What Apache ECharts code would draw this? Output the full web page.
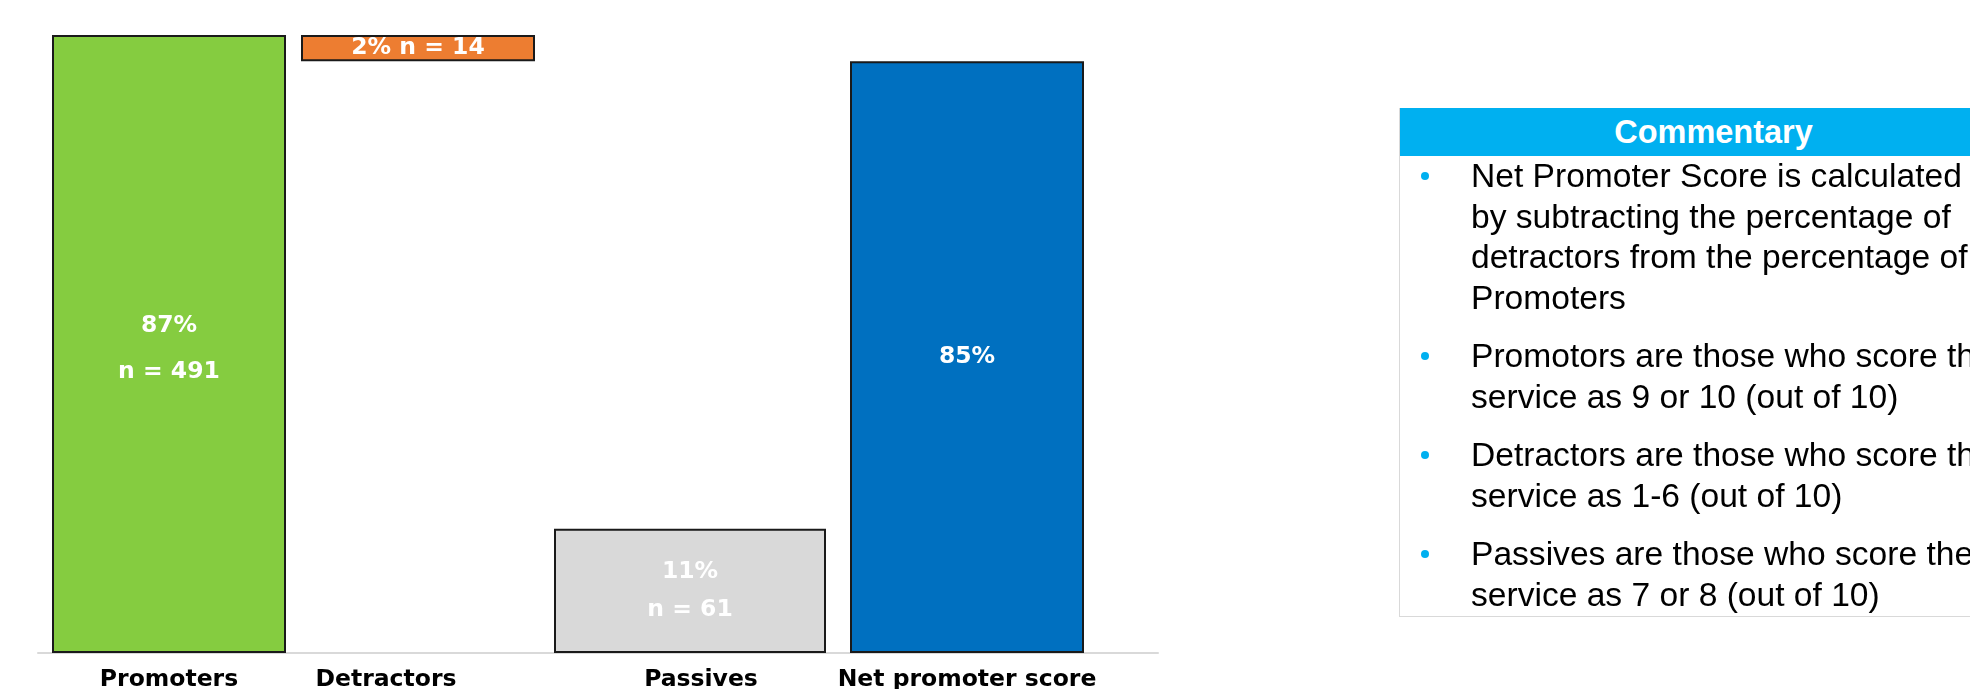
<!DOCTYPE html>
<html>
<head>
<meta charset="utf-8">
<script src="https://cdn.jsdelivr.net/npm/echarts@6/dist/echarts.min.js"></script>
<style>
  html, body { margin: 0; padding: 0; background: #fff; }
  body { width: 1970px; height: 689px; overflow: hidden; position: relative; }
  #chart { position: absolute; left: 0; top: 0; width: 1970px; height: 689px; }
  #commentary {
    position: absolute; left: 1399px; top: 108px; width: 627px; height: 508px;
    border-left: 1px solid #d9d9d9; border-bottom: 1px solid #d9d9d9;
    font-family: "Liberation Sans", Arial, sans-serif; color: #000;
  }
  #commentary .head {
    height: 48px; line-height: 48px; background: #00b0f0; color: #fff;
    font-weight: bold; font-size: 32.5px; text-align: center;
  }
  #commentary .para {
    position: relative; padding-left: 71px; font-size: 33.6px; line-height: 40.5px;
    white-space: nowrap; margin-top: 18px;
  }
  #commentary .para.first { margin-top: 0; }
  #commentary .para .dot {
    position: absolute; left: 21px; top: 16px; width: 8px; height: 8px;
    border-radius: 50%; background: #00b0f0;
  }
</style>
</head>
<body>
<div id="chart"></div>
<div id="commentary"></div>
<script>
// categories along the axis
var categories = ['Promoters', 'Detractors', 'Passives', 'Net promoter score'];
// shares and respondent counts as printed on the bars
var shares = [87, 2, 11, 85];
var counts = [491, 14, 61, null];
// bar heights as drawn in the original (the slide is not to scale)
var drawnHeights = [87, 3.7, 17.5, 83.3];

var barColors = ['#85cc40', '#ed7d31', '#d9d9d9', '#0070c0'];

var commentaryTitle = 'Commentary';
var commentaryLines = [
    ['Net Promoter Score is calculated', 'by subtracting the percentage of', 'detractors from the percentage of', 'Promoters'],
    ['Promotors are those who score the', 'service as 9 or 10 (out of 10)'],
    ['Detractors are those who score the', 'service as 1-6 (out of 10)'],
    ['Passives are those who score the', 'service as 7 or 8 (out of 10)']
];

function barLabel(i) {
    var pct = shares[i] + '%';
    if (counts[i] == null) return pct;
    if (i === 1) return pct + ' n = ' + counts[i];
    return pct + '\nn = ' + counts[i];
}

// detractors float from the net score up to the promoters top
var detractorBase = drawnHeights[0] - drawnHeights[1];

function pick(idx, fn) {
    return categories.map(function(c, i) { return idx.indexOf(i) >= 0 ? fn(i) : '-'; });
}
function item(i) {
    var d = { value: drawnHeights[i], itemStyle: { color: barColors[i] } };
    // the promoters caption sits a little below the bar centre in the original
    if (i === 0) d.label = { offset: [0, 5] };
    return d;
}

function labelStyle(lineHeight) {
    return {
        show: true,
        position: 'inside',
        color: '#fff',
        fontFamily: 'DejaVu Sans',
        fontWeight: 'bold',
        fontSize: 23.5,
        lineHeight: lineHeight,
        formatter: function(p) { return barLabel(p.dataIndex); }
    };
}

var border = { borderColor: '#1a1a1a', borderWidth: 2 };

// the original slide does not space its bars evenly, so the detractors and
// passives bars sit in their own slightly shifted grids
function grid(left, width) {
    return { left: left, top: 35, width: width || 1064, height: 618, outerBoundsMode: 'none', containLabel: false };
}
function hiddenX(g) {
    return { type: 'category', gridIndex: g, data: categories, show: false };
}
function hiddenY(g) {
    return { type: 'value', gridIndex: g, min: 0, max: drawnHeights[0], show: false };
}

var chart = echarts.init(document.getElementById('chart'));

chart.setOption({
    animation: false,
    grid: [
        grid(36),        // promoters, net score, axis labels
        grid(19),        // detractors
        grid(25),        // passives
        grid(38, 1120)   // baseline
    ],
    xAxis: [
        {
            type: 'category', gridIndex: 0,
            data: categories.map(function(c, i) {
                // the detractors caption sits left of its bar in the original
                return i === 1 ? { value: c, textStyle: { padding: [0, 98, 0, 0] } } : c;
            }),
            axisLine: { show: false }, axisTick: { show: false },
            axisLabel: {
                color: '#000', fontFamily: 'DejaVu Sans', fontWeight: 'bold',
                fontSize: 23.5, margin: 15, interval: 0
            }
        },
        hiddenX(1),
        hiddenX(2),
        {
            type: 'value', gridIndex: 3,
            axisLine: { show: true, onZero: false, lineStyle: { color: '#d9d9d9', width: 2 } },
            axisTick: { show: false }, axisLabel: { show: false }, splitLine: { show: false }
        }
    ],
    yAxis: [
        hiddenY(0), hiddenY(1), hiddenY(2),
        { type: 'value', gridIndex: 3, show: false }
    ],
    series: [
        {
            name: 'share', type: 'bar', xAxisIndex: 0, yAxisIndex: 0,
            barWidth: 234, itemStyle: border, label: labelStyle(46),
            data: pick([0, 3], item)
        },
        {
            name: 'base', type: 'bar', stack: 'wf', xAxisIndex: 1, yAxisIndex: 1,
            barWidth: 234, silent: true,
            itemStyle: { color: 'transparent', borderWidth: 0 },
            data: pick([1], function() { return detractorBase; })
        },
        {
            name: 'detractors', type: 'bar', stack: 'wf', xAxisIndex: 1, yAxisIndex: 1,
            barWidth: 234, itemStyle: border, label: labelStyle(30),
            data: pick([1], item)
        },
        {
            name: 'passives', type: 'bar', xAxisIndex: 2, yAxisIndex: 2,
            barWidth: 272, itemStyle: border, label: labelStyle(38),
            data: pick([2], item)
        }
    ]
});

// commentary box
var box = document.getElementById('commentary');
var html = '<div class="head">' + commentaryTitle + '</div>';
commentaryLines.forEach(function(lines, k) {
    html += '<div class="para' + (k === 0 ? ' first' : '') + '"><span class="dot"></span>' +
        lines.join('<br>') + '</div>';
});
box.innerHTML = html;
</script>
</body>
</html>
